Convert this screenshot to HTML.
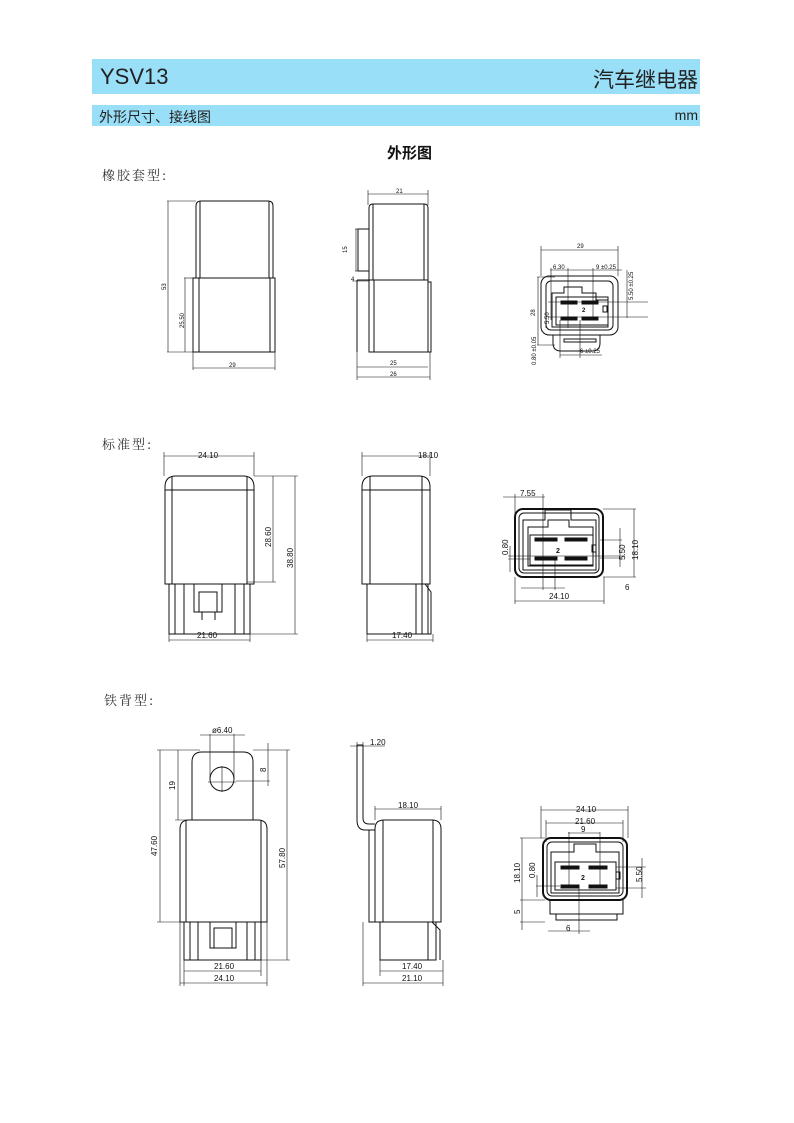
<!DOCTYPE html>
<html><head><meta charset="utf-8"><style>
html,body{margin:0;padding:0;background:#fff}
body{width:794px;height:1123px;position:relative;overflow:hidden;font-family:"Liberation Sans","Noto Sans CJK SC",sans-serif}
.bar{position:absolute;left:92px;width:608px;background:#9adff8}
svg{position:absolute;left:0;top:0}
</style></head><body>
<div class="bar" style="top:59px;height:35px"></div>
<div class="bar" style="top:105px;height:21px"></div>
<div style="position:absolute;left:100px;top:64px;font-size:22px;color:#222">YSV13</div>
<div style="position:absolute;right:96px;top:64px;font-size:21px;color:#222">汽车继电器</div>
<div style="position:absolute;left:99px;top:107px;font-size:14px;color:#222">外形尺寸、接线图</div>
<div style="position:absolute;right:96px;top:107px;font-size:14px;color:#222">mm</div>
<div style="position:absolute;left:387px;top:142px;font-size:15px;font-weight:bold;color:#111;font-family:'Noto Sans CJK SC',sans-serif">外形图</div>
<div style="position:absolute;left:102px;top:165px;font-size:13px;color:#333;font-family:'Noto Serif CJK SC',serif;letter-spacing:2px">橡胶套型:</div>
<div style="position:absolute;left:102px;top:434px;font-size:13px;color:#333;font-family:'Noto Serif CJK SC',serif;letter-spacing:2px">标准型:</div>
<div style="position:absolute;left:104px;top:690px;font-size:13px;color:#333;font-family:'Noto Serif CJK SC',serif;letter-spacing:2px">铁背型:</div>
<svg width="794" height="1123" viewBox="0 0 794 1123" fill="none" stroke="#111" stroke-width="1" font-family="Liberation Sans,sans-serif">
<g font-size="7" fill="#111" stroke="none">
</g>
<!-- ROW1 front -->
<path d="M196 278V206q0-5 5-5h67q5 0 5 5V278"/><line x1="200" y1="201" x2="200" y2="278"/><line x1="269" y1="201" x2="269" y2="278"/>
<rect x="193" y="278" width="82" height="74"/><line x1="199" y1="278" x2="199" y2="352"/><line x1="270" y1="278" x2="270" y2="352"/>
<g stroke-width=".6"><line x1="167" y1="201" x2="196" y2="201"/><line x1="168" y1="201" x2="168" y2="352"/><line x1="167" y1="352" x2="193" y2="352"/>
<line x1="184" y1="278" x2="193" y2="278"/><line x1="185" y1="278" x2="185" y2="352"/>
<line x1="193" y1="352" x2="193" y2="370"/><line x1="275" y1="352" x2="275" y2="370"/><line x1="193" y1="368" x2="275" y2="368"/>
<line x1="368" y1="190" x2="368" y2="205"/><line x1="428" y1="190" x2="428" y2="205"/><line x1="368" y1="194" x2="428" y2="194"/>
<line x1="355" y1="229" x2="369" y2="229"/><line x1="355" y1="271" x2="369" y2="271"/><line x1="356" y1="229" x2="356" y2="271"/><line x1="352" y1="281" x2="369" y2="281"/>
<line x1="357" y1="352" x2="357" y2="380"/><line x1="430" y1="352" x2="430" y2="380"/><line x1="357" y1="367" x2="428" y2="367"/><line x1="357" y1="377" x2="430" y2="377"/></g>
<g font-size="6" fill="#111" stroke="none"><text x="229" y="367">29</text><text x="396" y="193">21</text><text x="390" y="365">25</text><text x="390" y="376">26</text>
<text transform="translate(166,290) rotate(-90)">53</text><text transform="translate(184,328) rotate(-90)">25.50</text><text transform="translate(347,253) rotate(-90)">15</text><text x="351" y="281">4</text></g>
<!-- ROW1 side -->
<path d="M369 280V208q0-4 4-4h51q4 0 4 4V280"/><line x1="373" y1="204" x2="373" y2="280"/><line x1="424" y1="204" x2="424" y2="280"/>
<rect x="358" y="229" width="11" height="42"/><rect x="369" y="280" width="59" height="72"/><line x1="374" y1="280" x2="374" y2="352"/><rect x="428" y="282" width="3" height="70"/><line x1="357" y1="280" x2="357" y2="352"/><line x1="357" y1="280" x2="369" y2="280"/>
<!-- ROW1 connector -->
<rect x="541" y="276" width="77" height="59" rx="8"/><rect x="546" y="281" width="67" height="49" rx="5"/>
<path d="M553 335v8q0 8 8 8h31q8 0 8-8v-8"/><rect x="564" y="339" width="32" height="3"/>
<path d="M552 327V293h12v-6h18v6h14v7h12v27z"/><rect x="556" y="297" width="52" height="28"/>
<g fill="#111"><rect x="561" y="301" width="16" height="3"/><rect x="582" y="301" width="16" height="3"/><rect x="561" y="317" width="16" height="3"/><rect x="582" y="317" width="16" height="3"/></g><rect x="603" y="306" width="4" height="6"/>
<g stroke-width=".6"><line x1="541" y1="246" x2="541" y2="276"/><line x1="618" y1="246" x2="618" y2="276"/><line x1="541" y1="250" x2="618" y2="250"/>
<line x1="550" y1="270" x2="622" y2="270"/><line x1="551" y1="268" x2="551" y2="320"/><line x1="568" y1="268" x2="568" y2="328"/><line x1="593" y1="268" x2="593" y2="320"/>
<line x1="537" y1="277" x2="555" y2="277"/><line x1="538" y1="277" x2="538" y2="345"/><line x1="537" y1="345" x2="555" y2="345"/>
<line x1="548" y1="302" x2="648" y2="302"/><line x1="548" y1="317" x2="648" y2="317"/><line x1="546" y1="312" x2="546" y2="328"/><line x1="627" y1="270" x2="627" y2="318"/>
<line x1="560" y1="320" x2="560" y2="358"/><line x1="580" y1="320" x2="580" y2="358"/><line x1="560" y1="355" x2="602" y2="355"/></g>
<g font-size="6" fill="#111" stroke="none"><text x="577" y="248">29</text><text x="553" y="269">6.30</text><text x="596" y="269">9 ±0.25</text><text x="582" y="312" font-weight="bold">2</text><text x="580" y="353">6 ±0.25</text>
<text transform="translate(535,316) rotate(-90)">28</text><text transform="translate(633,300) rotate(-90)">5.50 ±0.25</text><text transform="translate(549,324) rotate(-90)">5.50</text><text transform="translate(536,365) rotate(-90)">0.80 ±0.05</text></g>

<!-- ROW2 front -->
<path d="M165 584V487q0-11 11-11h67q11 0 11 11V584z"/><line x1="165" y1="490" x2="254" y2="490"/><line x1="172" y1="476" x2="172" y2="584"/><line x1="247" y1="476" x2="247" y2="584"/>
<rect x="169" y="584" width="81" height="50"/><line x1="175" y1="584" x2="175" y2="634"/><line x1="184" y1="584" x2="184" y2="634"/><line x1="235" y1="584" x2="235" y2="634"/><line x1="244" y1="584" x2="244" y2="634"/>
<rect x="194" y="584" width="28" height="28"/><rect x="199" y="592" width="18" height="20"/><line x1="202" y1="612" x2="202" y2="620"/><line x1="215" y1="612" x2="215" y2="620"/>
<g stroke-width=".6"><line x1="164" y1="452" x2="164" y2="476"/><line x1="254" y1="452" x2="254" y2="476"/><line x1="164" y1="456" x2="254" y2="456"/>
<line x1="254" y1="476" x2="298" y2="476"/><line x1="247" y1="582" x2="276" y2="582"/><line x1="250" y1="634" x2="298" y2="634"/><line x1="273" y1="476" x2="273" y2="582"/><line x1="295" y1="476" x2="295" y2="634"/>
<line x1="169" y1="634" x2="169" y2="642"/><line x1="250" y1="634" x2="250" y2="642"/><line x1="169" y1="640" x2="250" y2="640"/>
<line x1="362" y1="452" x2="362" y2="476"/><line x1="430" y1="452" x2="430" y2="476"/><line x1="362" y1="456" x2="430" y2="456"/>
<line x1="367" y1="634" x2="367" y2="642"/><line x1="433" y1="634" x2="433" y2="642"/><line x1="367" y1="640" x2="433" y2="640"/></g>
<g font-size="8" fill="#111" stroke="none"><text x="198" y="458">24.10</text><text x="197" y="638">21.60</text><text x="418" y="458">18.10</text><text x="392" y="638">17.40</text>
<text transform="translate(271,547) rotate(-90)">28.60</text><text transform="translate(293,568) rotate(-90)">38.80</text></g>
<!-- ROW2 side -->
<path d="M362 584V487q0-11 11-11h46q11 0 11 11V584z"/><line x1="362" y1="490" x2="430" y2="490"/><line x1="370" y1="476" x2="370" y2="584"/><line x1="422" y1="476" x2="422" y2="584"/>
<rect x="367" y="584" width="61" height="50"/><line x1="416" y1="584" x2="416" y2="634"/><line x1="422" y1="584" x2="422" y2="634"/><path d="M425 584l6 8v42h-3"/>
<!-- ROW2 connector -->
<rect x="515" y="509" width="88" height="68" rx="8" stroke-width="2"/><rect x="519" y="513" width="80" height="60" rx="5"/>
<path d="M523 570V520h22v-10h26v10h25v50z"/><path d="M528 566V527h20v-7h21v7h24v39z"/><rect x="530" y="535" width="63" height="30"/>
<g fill="#111"><rect x="535" y="538" width="22" height="3"/><rect x="565" y="538" width="22" height="3"/><rect x="535" y="557" width="22" height="3"/><rect x="565" y="557" width="22" height="3"/></g><rect x="592" y="545" width="4" height="7"/>
<g stroke-width=".6"><line x1="503" y1="497" x2="545" y2="497"/><line x1="515" y1="494" x2="515" y2="520"/><line x1="543" y1="494" x2="543" y2="590"/>
<line x1="603" y1="509" x2="636" y2="509"/><line x1="603" y1="577" x2="636" y2="577"/><line x1="634" y1="509" x2="634" y2="577"/>
<line x1="600" y1="540" x2="622" y2="540"/><line x1="600" y1="558" x2="622" y2="558"/><line x1="620" y1="528" x2="620" y2="567"/>
<line x1="508" y1="556" x2="625" y2="556"/><line x1="508" y1="559" x2="530" y2="559"/><line x1="510" y1="546" x2="510" y2="572"/>
<line x1="521" y1="588" x2="565" y2="588"/><line x1="555" y1="559" x2="555" y2="590"/>
<line x1="515" y1="577" x2="515" y2="604"/><line x1="604" y1="577" x2="604" y2="604"/><line x1="515" y1="601" x2="604" y2="601"/></g>
<g font-size="8" fill="#111" stroke="none"><text x="520" y="496">7.55</text><text x="549" y="599">24.10</text><text x="625" y="590">6</text><text x="556" y="553" font-weight="bold" font-size="7">2</text>
<text transform="translate(508,555) rotate(-90)">0.80</text><text transform="translate(625,560) rotate(-90)">5.50</text><text transform="translate(638,560) rotate(-90)">18.10</text></g>

<!-- ROW3 front -->
<path d="M192 820V762q0-10 10-10h41q10 0 10 10V820"/><circle cx="222" cy="779" r="12"/>
<path d="M180 922V829q0-9 9-9h69q9 0 9 9V922z"/><line x1="186" y1="820" x2="186" y2="922"/><line x1="261" y1="820" x2="261" y2="922"/>
<rect x="184" y="922" width="77" height="38"/><line x1="190" y1="922" x2="190" y2="960"/><line x1="198" y1="922" x2="198" y2="960"/><line x1="247" y1="922" x2="247" y2="960"/><line x1="255" y1="922" x2="255" y2="960"/>
<rect x="210" y="922" width="26" height="26"/><rect x="214" y="928" width="18" height="20"/>
<g stroke-width=".6"><line x1="208" y1="782" x2="236" y2="782"/><line x1="222" y1="766" x2="222" y2="792"/><line x1="210" y1="734" x2="210" y2="780"/><line x1="234" y1="734" x2="234" y2="780"/><line x1="200" y1="735" x2="245" y2="735"/>
<line x1="157" y1="750" x2="200" y2="750"/><line x1="160" y1="750" x2="160" y2="922"/><line x1="157" y1="922" x2="184" y2="922"/><line x1="178" y1="750" x2="178" y2="820"/><line x1="175" y1="820" x2="192" y2="820"/>
<line x1="253" y1="750" x2="290" y2="750"/><line x1="287" y1="750" x2="287" y2="960"/><line x1="261" y1="960" x2="290" y2="960"/><line x1="268" y1="743" x2="268" y2="786"/><line x1="236" y1="781" x2="270" y2="781"/>
<line x1="184" y1="960" x2="184" y2="986"/><line x1="261" y1="960" x2="261" y2="976"/><line x1="267" y1="922" x2="267" y2="986"/><line x1="180" y1="922" x2="180" y2="986"/><line x1="184" y1="971" x2="261" y2="971"/><line x1="180" y1="983" x2="267" y2="983"/>
<line x1="350" y1="746" x2="385" y2="746"/><line x1="357" y1="742" x2="357" y2="750"/><line x1="363" y1="742" x2="363" y2="750"/>
<line x1="375" y1="806" x2="375" y2="820"/><line x1="441" y1="806" x2="441" y2="820"/><line x1="375" y1="809" x2="441" y2="809"/>
<line x1="380" y1="960" x2="380" y2="976"/><line x1="443" y1="960" x2="443" y2="986"/><line x1="363" y1="922" x2="363" y2="986"/><line x1="380" y1="971" x2="443" y2="971"/><line x1="363" y1="983" x2="443" y2="983"/></g>
<g font-size="8" fill="#111" stroke="none"><text x="212" y="733">ø6.40</text><text x="214" y="969">21.60</text><text x="214" y="981">24.10</text><text x="370" y="745">1.20</text><text x="398" y="808">18.10</text><text x="402" y="969">17.40</text><text x="402" y="981">21.10</text>
<text transform="translate(157,856) rotate(-90)">47.60</text><text transform="translate(175,790) rotate(-90)">19</text><text transform="translate(266,772) rotate(-90)">8</text><text transform="translate(285,868) rotate(-90)">57.80</text></g>
<!-- ROW3 side -->
<path d="M357 745V820q0 10 8 10h10M363 745V818q0 6 6 6h6"/><line x1="357" y1="745" x2="363" y2="745"/>
<path d="M375 922V829q0-9 9-9h48q9 0 9 9V922z"/><line x1="383" y1="820" x2="383" y2="922"/><line x1="433" y1="820" x2="433" y2="922"/><rect x="369" y="830" width="6" height="92"/>
<rect x="380" y="922" width="56" height="38"/><line x1="428" y1="922" x2="428" y2="960"/><path d="M432 922l8 8v30"/>
<!-- ROW3 connector -->
<rect x="543" y="838" width="84" height="62" rx="8" stroke-width="2"/><rect x="547" y="842" width="76" height="54" rx="5"/>
<path d="M551 893V852h23v-8h22v8h23v41z"/><rect x="555" y="862" width="61" height="28"/>
<g fill="#111"><rect x="561" y="866" width="18" height="3"/><rect x="589" y="866" width="18" height="3"/><rect x="561" y="885" width="18" height="3"/><rect x="589" y="885" width="18" height="3"/></g><rect x="616" y="872" width="4" height="7"/>
<path d="M550 900v14h73v-14M556 914v6h61v-6"/>
<g stroke-width=".6"><line x1="541" y1="810" x2="628" y2="810"/><line x1="541" y1="806" x2="541" y2="838"/><line x1="628" y1="806" x2="628" y2="838"/>
<line x1="546" y1="823" x2="623" y2="823"/><line x1="546" y1="820" x2="546" y2="842"/><line x1="623" y1="820" x2="623" y2="842"/>
<line x1="568" y1="833" x2="600" y2="833"/><line x1="569" y1="832" x2="569" y2="886"/><line x1="600" y1="832" x2="600" y2="886"/>
<line x1="520" y1="838" x2="545" y2="838"/><line x1="520" y1="900" x2="545" y2="900"/><line x1="520" y1="922" x2="545" y2="922"/><line x1="522" y1="838" x2="522" y2="930"/>
<line x1="616" y1="867" x2="646" y2="867"/><line x1="616" y1="888" x2="646" y2="888"/><line x1="642" y1="858" x2="642" y2="898"/>
<line x1="536" y1="886" x2="560" y2="886"/><line x1="537" y1="875" x2="537" y2="897"/>
<line x1="548" y1="931" x2="590" y2="931"/><line x1="579" y1="886" x2="579" y2="934"/></g>
<g font-size="8" fill="#111" stroke="none"><text x="576" y="812">24.10</text><text x="575" y="824">21.60</text><text x="581" y="832">9</text><text x="566" y="931">6</text><text x="581" y="880" font-weight="bold" font-size="7">2</text>
<text transform="translate(520,883) rotate(-90)">18.10</text><text transform="translate(520,914) rotate(-90)">5</text><text transform="translate(535,878) rotate(-90)">0.80</text><text transform="translate(642,882) rotate(-90)">5.50</text></g>
</svg>
</body></html>
